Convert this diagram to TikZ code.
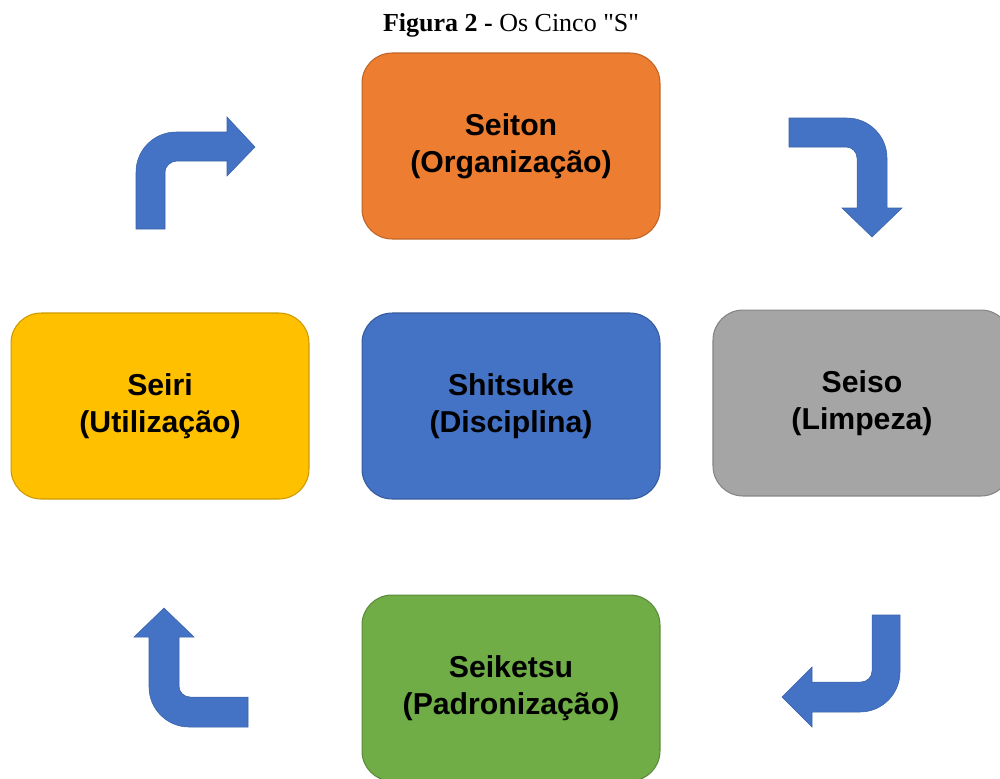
\documentclass[tikz,border=0pt]{standalone}
\usepackage{fontspec}
\setmainfont{Liberation Serif}[Ligatures=TeXOff]
\setsansfont{Liberation Sans}
\usepackage{tikz}
\usetikzlibrary{positioning}

\definecolor{seitonc}{HTML}{ED7D31}
\definecolor{seiric}{HTML}{FFC000}
\definecolor{shitsukec}{HTML}{4472C4}
\definecolor{seisoc}{HTML}{A5A5A5}
\definecolor{seiketsuc}{HTML}{70AD47}
\definecolor{arrowc}{HTML}{4472C4}

\begin{document}
\begin{tikzpicture}[x=0.02cm, y=-0.02cm]
    \tikzstyle{sbox}=[rectangle, rounded corners=0.6cm, minimum width=5.96cm, minimum height=3.72cm, line width=0.6pt, align=center, font=\sffamily\bfseries\fontsize{17.2}{21}\selectfont]
    \tikzstyle{bent}=[fill=arrowc, draw=arrowc!85!black, line width=0.3pt]
      \useasboundingbox (0,0) rectangle (1000,778);
      \node[font=\fontsize{14.8}{17}\selectfont] (title) at (511,25) {\textbf{Figura 2 -} Os Cinco "S"};
      \node[sbox, fill=shitsukec, draw=shitsukec!80!black] (shitsuke) at (511,406) {Shitsuke\\(Disciplina)};
      \node[sbox, fill=seitonc, draw=seitonc!80!black] (seiton) [above=1.46cm of shitsuke] {Seiton\\(Organização)};
      \node[sbox, fill=seiric, draw=seiric!80!black] (seiri) [left=1.04cm of shitsuke] {Seiri\\(Utilização)};
      \node[sbox, fill=seisoc, draw=seisoc!80!black] (seiso) [right=1.04cm of shitsuke, yshift=0.06cm] {Seiso\\(Limpeza)};
      \node[sbox, fill=seiketsuc, draw=seiketsuc!80!black] (seiketsu) [below=1.9cm of shitsuke] {Seiketsu\\(Padronização)};
      % bent arrows
      \path[bent] (136,229) -- (136,172) .. controls (136,150) and (154,132) .. (176,132)
        -- (227,132) -- (227,117) -- (255,147) -- (227,176) -- (227,161) -- (177,161)
        .. controls (171,161) and (165,166) .. (165,172) -- (165,229) -- cycle;
      \path[bent] (789,118) -- (847,118) .. controls (869,118) and (887,136) .. (887,158)
        -- (887,208) -- (902,208) -- (872,237) -- (842,208) -- (857,208) -- (857,158)
        .. controls (857,152) and (852,147) .. (846,147) -- (789,147) -- cycle;
      \path[bent] (872,615) -- (900,615) -- (900,672) .. controls (900,694) and (882,712) .. (860,712)
        -- (812,712) -- (812,727) -- (782,697) -- (812,667) -- (812,682) -- (861,682)
        .. controls (867,682) and (872,677) .. (872,671) -- cycle;
      \path[bent] (248,727) -- (189,727) .. controls (167,727) and (149,709) .. (149,687)
        -- (149,637) -- (134,637) -- (164,608) -- (194,637) -- (179,637) -- (179,686)
        .. controls (179,692) and (184,697) .. (190,697) -- (248,697) -- cycle;
\end{tikzpicture}
\end{document}
